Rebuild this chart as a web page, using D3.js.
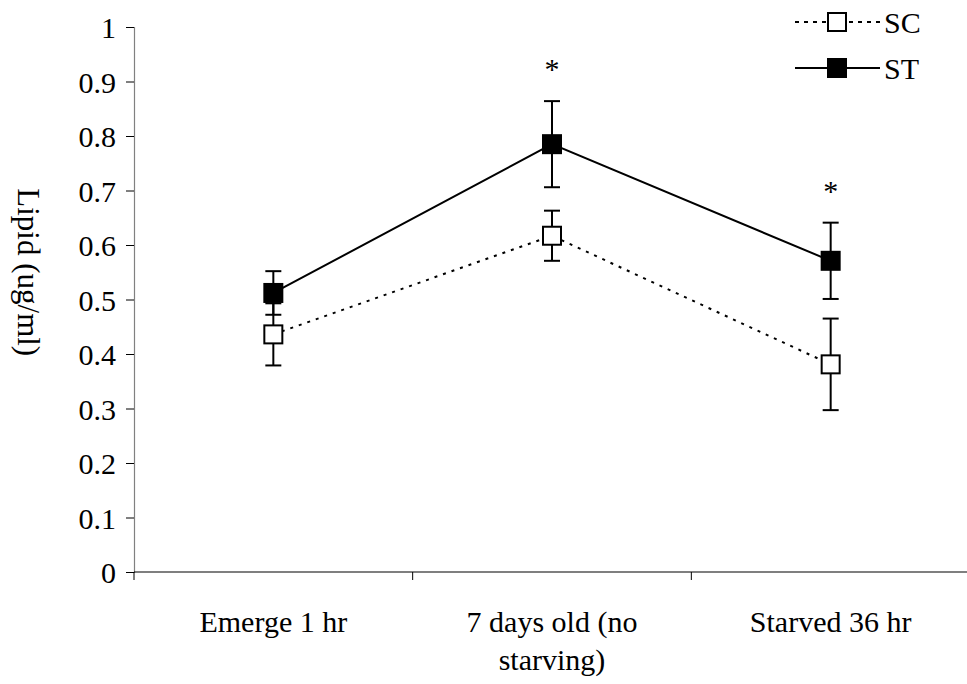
<!DOCTYPE html>
<html>
<head>
<meta charset="utf-8">
<script src="https://cdn.jsdelivr.net/npm/d3@7"></script>
<style>
  body { margin: 0; background: #fff; }
  svg, svg text { font-family: "Liberation Serif", "Times New Roman", serif; }
</style>
</head>
<body>
<svg id="chart" width="967" height="684"></svg>
<script>
// categories and tick labels
const categories = ["Emerge 1 hr", "7 days old (no starving)", "Starved 36 hr"];
const categoryLines = [["Emerge 1 hr"], ["7 days old (no", "starving)"], ["Starved 36 hr"]];
const yTicks = [0, 0.1, 0.2, 0.3, 0.4, 0.5, 0.6, 0.7, 0.8, 0.9, 1];

// series values (means and error)
const scMean = [0.436, 0.617, 0.381];
const scErr = [0.057, 0.046, 0.084];
const stMean = [0.512, 0.785, 0.571];
const stErr = [0.040, 0.079, 0.070];
const significant = [false, true, true];

const svg = d3.select("#chart");
const margin = { top: 27, right: -3, bottom: 112, left: 134 };
const width = 967, height = 684;
const innerWidth = width - margin.left - margin.right;
const innerHeight = height - margin.top - margin.bottom;

const g = svg.append("g")
  .attr("transform", `translate(${margin.left},${margin.top})`);

const x = d3.scaleBand().domain(categories).range([0, innerWidth]);
const y = d3.scaleLinear().domain([0, 1]).range([innerHeight, 0]);
const cx = d => x(d) + x.bandwidth() / 2;

// Y axis
const yAxis = g.append("g")
  .attr("font-family", null)
  .call(d3.axisLeft(y).tickValues(yTicks).tickSize(8).tickPadding(10)
    .tickFormat(d => d === 0 || d === 1 ? d3.format("d")(d) : d3.format(".1f")(d)));
yAxis.attr("font-family", "Liberation Serif, Times New Roman, serif");
yAxis.select(".domain").attr("stroke", "#808080").attr("stroke-width", 1.2);
yAxis.selectAll(".tick line").attr("stroke", "#000").attr("stroke-width", 1);
yAxis.selectAll("text").style("font-size", "30px").attr("fill", "#000")
  .attr("dy", "0.35em");

// X axis (ticks at band boundaries)
const xAxisG = g.append("g").attr("transform", `translate(0,${innerHeight})`);
xAxisG.append("line").attr("x1", 0).attr("x2", innerWidth)
  .attr("stroke", "#000").attr("stroke-width", 1.2);
const boundaries = categories.map(c => x(c)).concat([x.range()[1]]);
xAxisG.selectAll(".xt").data(boundaries).join("line")
  .attr("x1", d => d).attr("x2", d => d).attr("y1", 0).attr("y2", 8)
  .attr("stroke", "#000");
categories.forEach((c, i) => {
  const t = xAxisG.append("text")
    .attr("x", cx(c)).attr("y", 60)
    .attr("text-anchor", "middle")
    .style("font-size", "30px").attr("fill", "#000");
  categoryLines[i].forEach((line, j) => {
    t.append("tspan").attr("x", cx(c)).attr("dy", j === 0 ? 0 : 38).text(line);
  });
});

// Y label
svg.append("text")
  .attr("transform", `translate(29, ${margin.top + y(0.55)}) rotate(90)`)
  .attr("text-anchor", "middle")
  .attr("dy", "0.35em")
  .style("font-size", "31px")
  .text("Lipid (ug/ml)");

const capW = 8, sq = 18;

function drawSeries(means, errs, dash, fill) {
  const line = d3.line().x((d, i) => cx(categories[i])).y(d => y(d));
  g.append("path").datum(means)
    .attr("d", line).attr("fill", "none").attr("stroke", "#000")
    .attr("stroke-width", 2).attr("stroke-dasharray", dash);

  const eb = g.append("g");
  means.forEach((m, i) => {
    const px = cx(categories[i]);
    eb.append("line").attr("x1", px).attr("x2", px)
      .attr("y1", y(m - errs[i])).attr("y2", y(m + errs[i]))
      .attr("stroke", "#000").attr("stroke-width", 2);
    [m - errs[i], m + errs[i]].forEach(v => {
      eb.append("line").attr("x1", px - capW).attr("x2", px + capW)
        .attr("y1", y(v)).attr("y2", y(v))
        .attr("stroke", "#000").attr("stroke-width", 2);
    });
  });
  g.append("g").selectAll("rect").data(means).join("rect")
    .attr("x", (d, i) => cx(categories[i]) - sq / 2)
    .attr("y", d => y(d) - sq / 2)
    .attr("width", sq).attr("height", sq)
    .attr("fill", fill).attr("stroke", "#000").attr("stroke-width", 2);
}

drawSeries(scMean, scErr, "3,6", "#fff");
drawSeries(stMean, stErr, null, "#000");

// significance asterisks
g.selectAll(".star").data(categories.filter((c, i) => significant[i])).join("text")
  .attr("x", d => cx(d))
  .attr("y", d => y(stMean[categories.indexOf(d)] + stErr[categories.indexOf(d)]) - 22)
  .attr("text-anchor", "middle")
  .style("font-size", "30px")
  .text("*");

// legend
const legendItems = [
  { label: "SC", dash: "4,5", fill: "#fff", y: 22 },
  { label: "ST", dash: null, fill: "#000", y: 68 }
];
const legend = svg.append("g").attr("class", "legend");
legendItems.forEach(item => {
  const lg = legend.append("g").attr("transform", `translate(0, ${item.y})`);
  lg.append("line").attr("x1", 795).attr("x2", 880).attr("y1", 0).attr("y2", 0)
    .attr("stroke", "#000").attr("stroke-width", 2).attr("stroke-dasharray", item.dash);
  lg.append("rect").attr("x", 837 - sq / 2).attr("y", -sq / 2)
    .attr("width", sq).attr("height", sq)
    .attr("fill", item.fill).attr("stroke", "#000").attr("stroke-width", 2);
  lg.append("text").attr("x", 884).attr("y", 0).attr("dy", "0.35em")
    .style("font-size", "30px").text(item.label);
});
</script>
</body>
</html>
